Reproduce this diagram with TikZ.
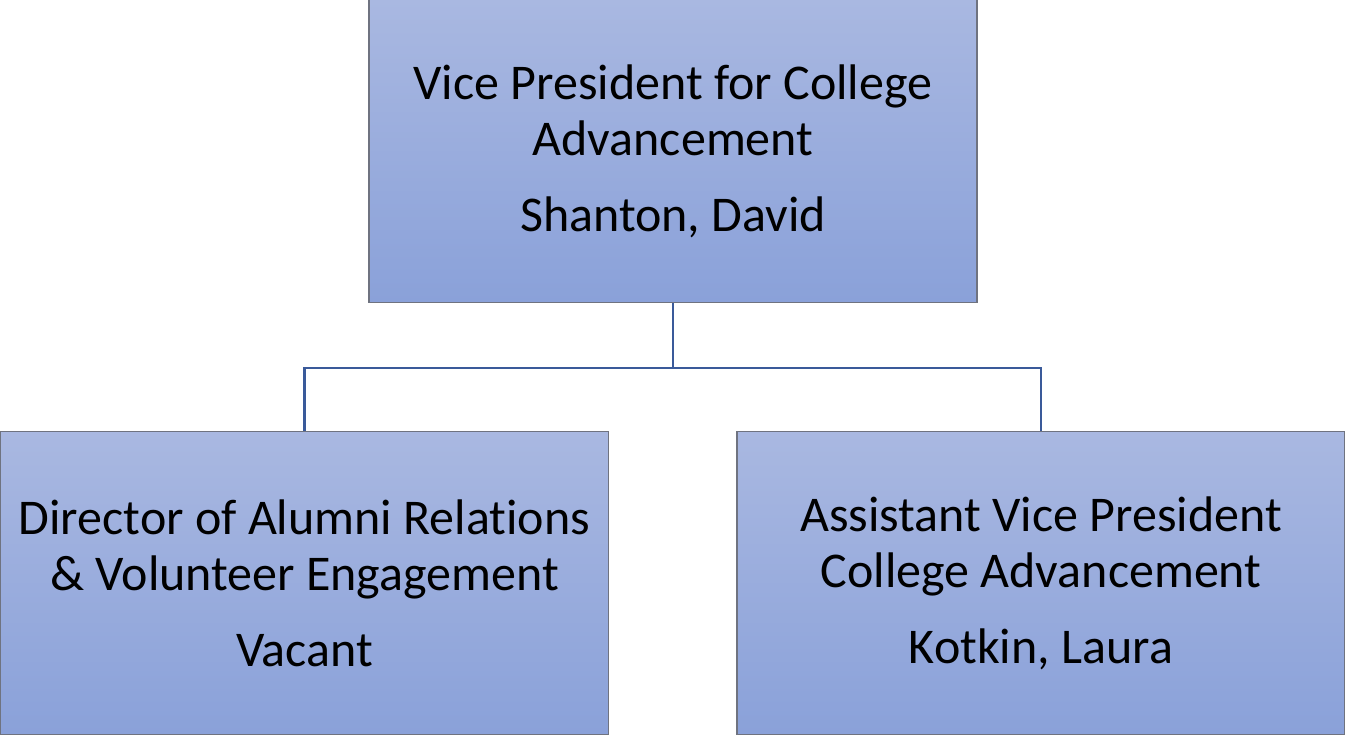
\documentclass[tikz,border=0pt]{standalone}
\usepackage{fontspec}
\setmainfont[Ligatures=NoCommon]{Carlito}
\definecolor{boxtop}{HTML}{A9B8E1}
\definecolor{boxbot}{HTML}{8AA1D9}
\definecolor{boxline}{HTML}{6F7380}
\definecolor{linkblue}{HTML}{3A5A9A}
\tikzset{
  post/.style={draw=boxline, line width=1.5pt, top color=boxtop, bottom color=boxbot,
    minimum width=608pt, minimum height=303pt, align=center, inner sep=0pt,
    font=\fontsize{50}{56}\selectfont},
  link/.style={draw=linkblue, line width=2.5pt}
}
\begin{document}
\begin{tikzpicture}[x=1pt,y=1pt]
\useasboundingbox (0,0) rectangle (1345,-735);
\node[post] (vp) at (673,-151) {Vice President for College\\Advancement\\[20pt]Shanton, David};
\node[post] (dir) at (304.5,-583) {Director of Alumni Relations\\\& Volunteer Engagement\\[20pt]Vacant};
\node[post] (avp) at (1041,-583) {Assistant Vice President\\College Advancement\\[20pt]Kotkin, Laura};
\path[link] (vp.south) -- ++(0,-65) -| (dir.north);
\path[link] (vp.south) -- ++(0,-65) -| (avp.north);
\end{tikzpicture}
\end{document}
